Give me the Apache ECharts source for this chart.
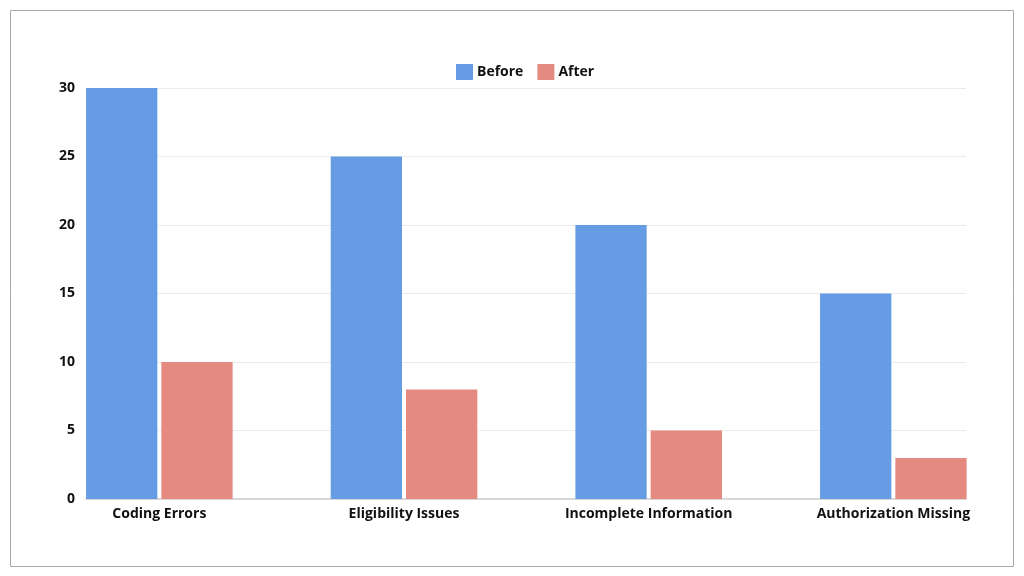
<!DOCTYPE html>
<html>
<head>
<meta charset="utf-8">
<script src="https://cdn.jsdelivr.net/npm/echarts@6/dist/echarts.min.js"></script>
<style>
html,body{margin:0;padding:0;background:#fff;}
#chart{width:1024px;height:576px;}
</style>
</head>
<body>
<div id="chart"></div>
<script>
const categories = ['Coding Errors', 'Eligibility Issues', 'Incomplete Information', 'Authorization Missing'];
const beforeValues = [30, 25, 20, 15];
const afterValues = [10, 8, 5, 3];
const seriesNames = ['Before', 'After'];
const yTicks = { min: 0, max: 30, interval: 5 };

const FONT = '"Open Sans", "DejaVu Sans", sans-serif';
const chart = echarts.init(document.getElementById('chart'), null, { renderer: 'canvas' });

chart.setOption({
  backgroundColor: '#ffffff',
  animation: false,
  color: ['#669ce3', '#e58a81'],
  graphic: [{
    type: 'rect',
    silent: true,
    shape: { x: 10.5, y: 10.5, width: 1003, height: 556 },
    style: { fill: 'none', stroke: '#a8a8a8', lineWidth: 1 }
  }],
  legend: {
    top: 59,
    left: 451,
    itemWidth: 17,
    itemHeight: 16,
    itemGap: 14,
    icon: 'rect',
    textStyle: { fontFamily: FONT, fontSize: 14, fontWeight: 'bold', color: '#111', padding: [0, 0, 0, -1] },
    data: seriesNames
  },
  grid: [
    { left: 37, right: 8.3, top: 88, bottom: 77 },
    { left: 86, right: 58, top: 88, bottom: 77 }
  ],
  xAxis: [
    {
      type: 'category',
      gridIndex: 0,
      data: categories,
      axisLine: { show: false },
      axisTick: { show: false },
      axisLabel: { fontFamily: FONT, fontSize: 14, fontWeight: 'bold', color: '#111', margin: 8 }
    },
    {
      type: 'value',
      gridIndex: 1,
      min: 0, max: 1,
      axisLine: { show: true, lineStyle: { color: '#d8d8d8', width: 2 } },
      axisTick: { show: false },
      axisLabel: { show: false },
      splitLine: { show: false }
    }
  ],
  yAxis: [
    {
      type: 'value',
      gridIndex: 0,
      min: yTicks.min, max: yTicks.max, interval: yTicks.interval,
      axisLine: { show: false },
      axisTick: { show: false },
      axisLabel: { show: false },
      splitLine: { show: false }
    },
    {
      type: 'value',
      gridIndex: 1,
      min: yTicks.min, max: yTicks.max, interval: yTicks.interval,
      axisLine: { show: false },
      axisTick: { show: false },
      axisLabel: { fontFamily: FONT, fontSize: 14, fontWeight: 'bold', color: '#111', margin: 11 },
      splitLine: { show: true, lineStyle: { color: '#ebebeb', width: 1 } }
    }
  ],
  series: [
    {
      name: seriesNames[0],
      type: 'bar',
      xAxisIndex: 0, yAxisIndex: 0,
      barWidth: 71.3,
      barGap: '5.6%',
      data: beforeValues,
      z: 3
    },
    {
      name: seriesNames[1],
      type: 'bar',
      xAxisIndex: 0, yAxisIndex: 0,
      barWidth: 71.3,
      barGap: '5.6%',
      data: afterValues,
      z: 3
    }
  ]
});
</script>
</body>
</html>
